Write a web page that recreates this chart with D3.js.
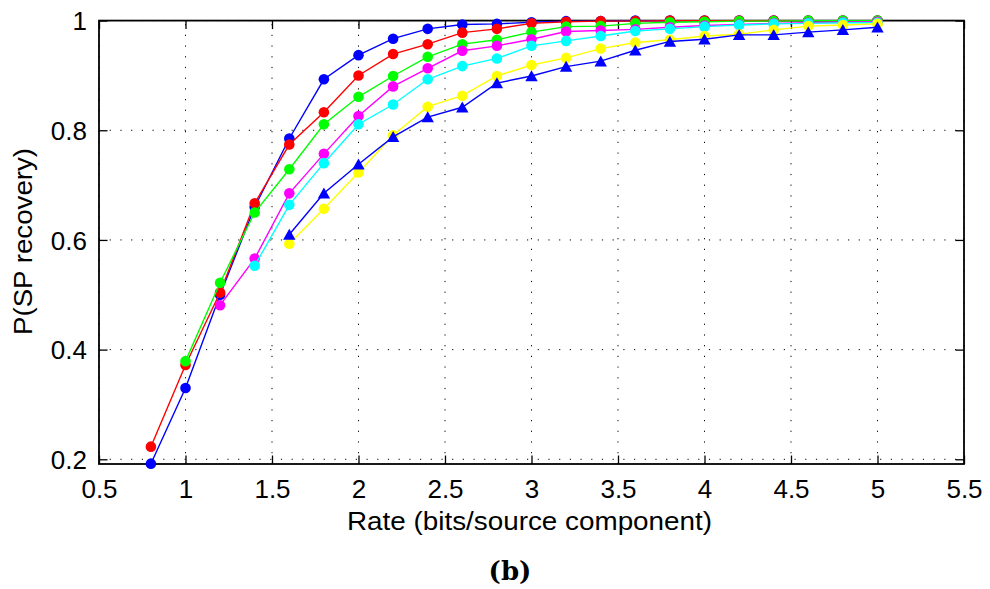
<!DOCTYPE html>
<html>
<head>
<meta charset="utf-8">
<script src="https://cdn.jsdelivr.net/npm/d3@7"></script>
<style>
  html, body { margin: 0; padding: 0; background: #fff; }
  svg { display: block; }
  text { font-family: "Liberation Sans", Arial, Helvetica, sans-serif; fill: #000; }
</style>
</head>
<body>
<svg id="chart" width="990" height="589"></svg>
<script>
// ---- Data ----
const rates = [0.8, 1.0, 1.2, 1.4, 1.6, 1.8, 2.0, 2.2, 2.4, 2.6, 2.8, 3.0, 3.2, 3.4, 3.6, 3.8, 4.0, 4.2, 4.4, 4.6, 4.8, 5.0];

const blueCircle = [0.192, 0.330, 0.500, 0.660, 0.785, 0.893, 0.937, 0.967, 0.985, 0.993, 0.994, 0.997, 0.999, 0.999, 1.0, 1.0, 1.0, 1.0, 1.0, 1.0, 1.0, 1.0];
const redCircle = [0.223, 0.372, 0.504, 0.667, 0.774, 0.833, 0.900, 0.939, 0.957, 0.978, 0.985, 0.995, 0.998, 0.999, 0.999, 1.0, 1.0, 1.0, 1.0, 1.0, 1.0, 1.0];
const greenCircle = [null, 0.379, 0.522, 0.650, 0.729, 0.811, 0.861, 0.899, 0.934, 0.957, 0.965, 0.979, 0.989, 0.990, 0.995, 0.997, 0.998, 0.999, 0.999, 1.0, 1.0, 1.0];
const magentaCircle = [null, null, 0.481, 0.566, 0.685, 0.757, 0.826, 0.880, 0.913, 0.945, 0.954, 0.966, 0.980, 0.982, 0.984, 0.988, 0.991, 0.993, 0.995, 0.996, 0.997, 0.998];
const cyanCircle = [null, null, null, 0.553, 0.664, 0.740, 0.811, 0.847, 0.893, 0.917, 0.931, 0.954, 0.963, 0.972, 0.981, 0.985, 0.989, 0.992, 0.994, 0.995, 0.996, 0.996];
const yellowCircle = [null, null, null, null, 0.593, 0.657, 0.723, 0.791, 0.843, 0.863, 0.899, 0.919, 0.932, 0.949, 0.960, 0.965, 0.972, 0.975, 0.983, 0.990, 0.992, 0.994];
const blueTriangle = [null, null, null, null, 0.610, 0.685, 0.738, 0.788, 0.824, 0.842, 0.886, 0.899, 0.916, 0.926, 0.946, 0.962, 0.966, 0.974, 0.974, 0.979, 0.983, 0.988];

const seriesNames = ["blueCircle", "redCircle", "greenCircle", "magentaCircle", "cyanCircle", "yellowCircle", "blueTriangle"];
const seriesValues = [blueCircle, redCircle, greenCircle, magentaCircle, cyanCircle, yellowCircle, blueTriangle];
const seriesColors = ["#0000ff", "#ff0000", "#00ff00", "#ff00ff", "#00ffff", "#ffff00", "#0000ff"];
const seriesMarkers = ["circle", "circle", "circle", "circle", "circle", "circle", "triangle"];

const xTicks = [0.5, 1, 1.5, 2, 2.5, 3, 3.5, 4, 4.5, 5, 5.5];
const xTickLabels = ["0.5", "1", "1.5", "2", "2.5", "3", "3.5", "4", "4.5", "5", "5.5"];
const yTicks = [0.2, 0.4, 0.6, 0.8, 1];
const yTickLabels = ["0.2", "0.4", "0.6", "0.8", "1"];

const xLabel = "Rate (bits/source component)";
const yLabel = "P(SP recovery)";
const caption = "(b)";

// ---- Layout ----
const L = 99, R = 964, T = 20.6, B = 464;
const svg = d3.select("#chart");

const x = d3.scaleLinear().domain([0.5, 5.5]).range([L, R]);
const y = d3.scaleLinear().domain([0.1914, 1]).range([B, T]);

// grid
const grid = svg.append("g");
xTicks.forEach(t => {
  grid.append("line").attr("x1", x(t)).attr("x2", x(t)).attr("y1", B).attr("y2", T)
    .attr("stroke", "#000").attr("stroke-width", 1).attr("stroke-dasharray", "1.2,9.5");
});
yTicks.forEach(t => {
  grid.append("line").attr("x1", L).attr("x2", R).attr("y1", y(t)).attr("y2", y(t))
    .attr("stroke", "#000").attr("stroke-width", 1).attr("stroke-dasharray", "1.2,9.5");
});

// axes via d3 (ticks inward, on all four sides)
const tickLen = 8.5;
const axB = svg.append("g").attr("transform", `translate(0,${B})`)
  .call(d3.axisBottom(x).tickValues(xTicks).tickSize(-tickLen).tickFormat((d, i) => xTickLabels[i]).tickPadding(14));
const axT = svg.append("g").attr("transform", `translate(0,${T})`)
  .call(d3.axisTop(x).tickValues(xTicks).tickSize(-tickLen).tickFormat(""));
const axL = svg.append("g").attr("transform", `translate(${L},0)`)
  .call(d3.axisLeft(y).tickValues(yTicks).tickSize(-tickLen).tickFormat((d, i) => yTickLabels[i]).tickPadding(12));
const axR = svg.append("g").attr("transform", `translate(${R},0)`)
  .call(d3.axisRight(y).tickValues(yTicks).tickSize(-tickLen).tickFormat(""));

[axB, axT, axL, axR].forEach(a => {
  a.select(".domain").remove();
  a.selectAll(".tick line").attr("stroke", "#000").attr("stroke-width", 1.3);
  a.selectAll(".tick text").attr("font-size", 26).attr("font-family", "'Liberation Sans', Arial, sans-serif").attr("fill", "#000");
});
axB.selectAll(".tick text").attr("dy", null).attr("y", 0).attr("transform", "translate(0,34)");
axL.selectAll(".tick text").attr("dy", "0.36em");

// box
svg.append("rect").attr("x", L).attr("y", T).attr("width", R - L).attr("height", B - T)
  .attr("fill", "none").attr("stroke", "#000").attr("stroke-width", 1.8);

// series
const plot = svg.append("g");
const line = d3.line().defined(d => d.v !== null).x(d => x(d.r)).y(d => y(d.v));
seriesValues.forEach((vals, si) => {
  const pts = rates.map((r, i) => ({ r: r, v: vals[i] }));
  const g = plot.append("g").attr("class", seriesNames[si]);
  g.append("path").attr("d", line(pts)).attr("fill", "none")
    .attr("stroke", seriesColors[si]).attr("stroke-width", 1.4);
  const def = pts.filter(p => p.v !== null);
  if (seriesMarkers[si] === "circle") {
    g.selectAll("circle").data(def).enter().append("circle")
      .attr("cx", d => x(d.r)).attr("cy", d => y(d.v)).attr("r", 5.3)
      .attr("fill", seriesColors[si]);
  } else {
    g.selectAll("path.mk").data(def).enter().append("path").attr("class", "mk")
      .attr("d", "M0,-5.8L6.2,5.2L-6.2,5.2Z")
      .attr("transform", d => `translate(${x(d.r)},${y(d.v)})`)
      .attr("fill", seriesColors[si]);
  }
});

// labels
svg.append("text").attr("x", 529.5).attr("y", 530).attr("text-anchor", "middle")
  .attr("font-size", 26).attr("textLength", 365).attr("lengthAdjust", "spacingAndGlyphs").text(xLabel);
svg.append("text").attr("transform", "translate(32,241.5) rotate(-90)").attr("text-anchor", "middle")
  .attr("font-size", 26).attr("textLength", 187).attr("lengthAdjust", "spacingAndGlyphs").text(yLabel);
svg.append("text").attr("x", 510).attr("y", 580).attr("text-anchor", "middle")
  .attr("font-size", 26).attr("font-weight", "bold")
  .style("font-family", "'DejaVu Serif', 'Liberation Serif', serif").text(caption);
</script>
</body>
</html>
